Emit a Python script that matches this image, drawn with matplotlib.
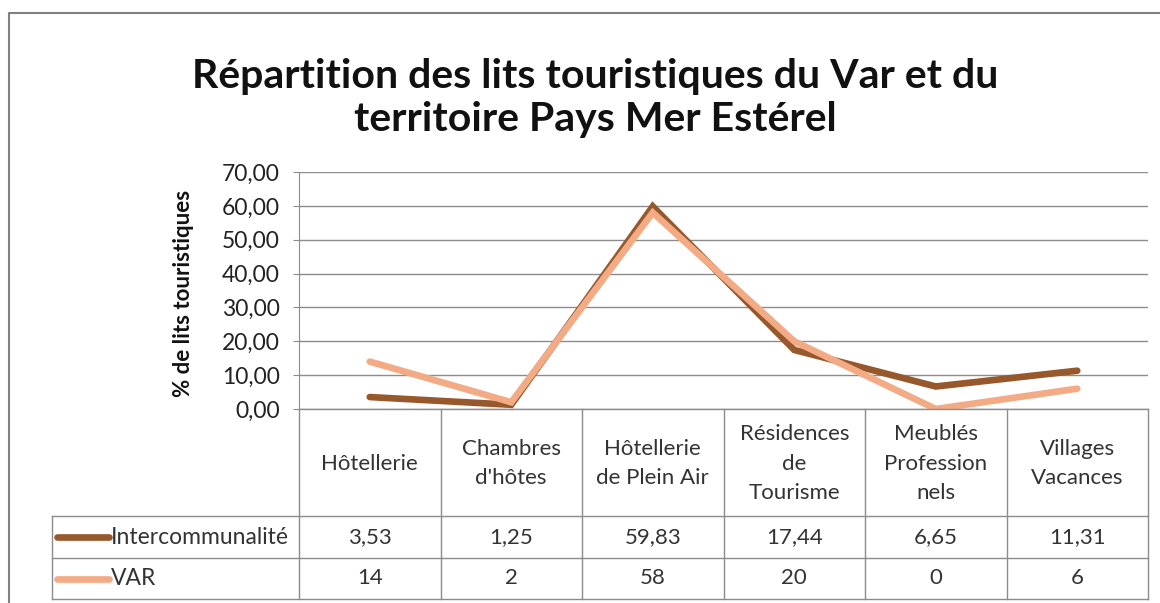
import matplotlib
matplotlib.use("Agg")
import matplotlib.pyplot as plt

categories = ["Hôtellerie", "Chambres\nd'hôtes", "Hôtellerie\nde Plein Air",
              "Résidences\nde\nTourisme", "Meublés\nProfession\nnels", "Villages\nVacances"]
series_names = ["Intercommunalité", "VAR"]
interco = [3.53, 1.25, 59.83, 17.44, 6.65, 11.31]
var = [14, 2, 58, 20, 0, 6]
interco_labels = ["3,53", "1,25", "59,83", "17,44", "6,65", "11,31"]
var_labels = ["14", "2", "58", "20", "0", "6"]
yticks = [0, 10, 20, 30, 40, 50, 60, 70]

title = "Répartition des lits touristiques du Var et du\nterritoire Pays Mer Estérel"
ylabel = "% de lits touristiques"

C_INT = "#97592B"
C_VAR = "#F3AB86"
GRID = "#8C8C8C"
FONT = "Lato"

W, H = 1160, 603
fig = plt.figure(figsize=(W / 100, H / 100), dpi=100)
fig.patch.set_facecolor("white")

# pixel geometry
px_left, px_right = 299, 1148
px_top, px_zero = 172, 409
px_hdr_bot, px_row1_bot, px_row2_bot = 516, 558, 599
px_tab_left = 52

def fx(x):
    return x / W

def fy(y):
    return 1 - y / H

ax = fig.add_axes([fx(px_left), fy(px_zero), fx(px_right - px_left), (px_zero - px_top) / H])
x = list(range(len(categories)))
ax.plot(x, interco, color=C_INT, lw=4.8, solid_capstyle="round", solid_joinstyle="miter", zorder=3)
ax.plot(x, var, color=C_VAR, lw=4.8, solid_capstyle="round", solid_joinstyle="miter", zorder=4)
ax.set_xlim(-0.5, len(categories) - 0.5)
ax.set_ylim(0, 70)
ax.set_yticks(yticks)
ax.set_yticklabels([f"{v:.2f}".replace(".", ",") for v in yticks], fontfamily=FONT, fontsize=16.5, color="#222222")
ax.set_xticks([])
ax.yaxis.grid(True, color=GRID, lw=1.0)
ax.set_axisbelow(True)
for s in ["top", "right", "bottom"]:
    ax.spines[s].set_visible(False)
ax.spines["left"].set_color(GRID)
ax.tick_params(axis="y", length=4, color=GRID, pad=10)

fig.text(fx(183), fy(293), ylabel, rotation=90, ha="center", va="center",
         fontfamily=FONT, fontsize=16, fontweight="bold", color="#111111")

# overlay for frame in pixel coordinates
ov = fig.add_axes([0, 0, 1, 1], zorder=-1)
ov.set_xlim(0, W)
ov.set_ylim(H, 0)
ov.axis("off")
ov.plot([9, 9, W + 5], [H + 5, 13, 13], color="#808080", lw=1.5)

# overlay for the data table
ov2 = fig.add_axes([0, 0, 1, 1], zorder=5)
ov2.set_xlim(0, W)
ov2.set_ylim(H, 0)
ov2.axis("off")
ov2.patch.set_alpha(0)

n = len(categories)
cw = (px_right - px_left) / n
lc = "#8C8C8C"
lw = 1.0
ov2.plot([px_left, px_right], [px_zero, px_zero], color=lc, lw=lw)
ov2.plot([px_tab_left, px_right], [px_hdr_bot, px_hdr_bot], color=lc, lw=lw)
ov2.plot([px_tab_left, px_right], [px_row1_bot, px_row1_bot], color=lc, lw=lw)
ov2.plot([px_tab_left, px_right], [px_row2_bot, px_row2_bot], color=lc, lw=lw)
for i in range(n + 1):
    xx = px_left + i * cw
    ov2.plot([xx, xx], [px_zero, px_row2_bot], color=lc, lw=lw)
ov2.plot([px_tab_left, px_tab_left], [px_hdr_bot, px_row2_bot], color=lc, lw=lw)

tcol = "#333333"
TS = 16
for i, cat in enumerate(categories):
    cx = px_left + (i + 0.5) * cw
    ov2.text(cx, (px_zero + px_hdr_bot) / 2 + 1, cat, ha="center", va="center",
             fontfamily=FONT, fontsize=TS, color=tcol, linespacing=1.6)
    ov2.text(cx, (px_hdr_bot + px_row1_bot) / 2, interco_labels[i], ha="center", va="center",
             fontfamily=FONT, fontsize=TS, color=tcol)
    ov2.text(cx, (px_row1_bot + px_row2_bot) / 2, var_labels[i], ha="center", va="center",
             fontfamily=FONT, fontsize=TS, color=tcol)

for name, col, (y0, y1) in zip(series_names, [C_INT, C_VAR],
                               [(px_hdr_bot, px_row1_bot), (px_row1_bot, px_row2_bot)]):
    yc = (y0 + y1) / 2
    ov2.plot([57, 109], [yc, yc], color=col, lw=4.8, solid_capstyle="round")
    ov2.text(111, yc, name, ha="left", va="center", fontfamily=FONT, fontsize=16.5, color=tcol)

fig.text(fx(595), fy(98), title, ha="center", va="center", fontfamily=FONT,
         fontsize=29.5, fontweight="bold", color="#111111", linespacing=1.22)

fig.savefig("out.png", dpi=100, facecolor="white")
